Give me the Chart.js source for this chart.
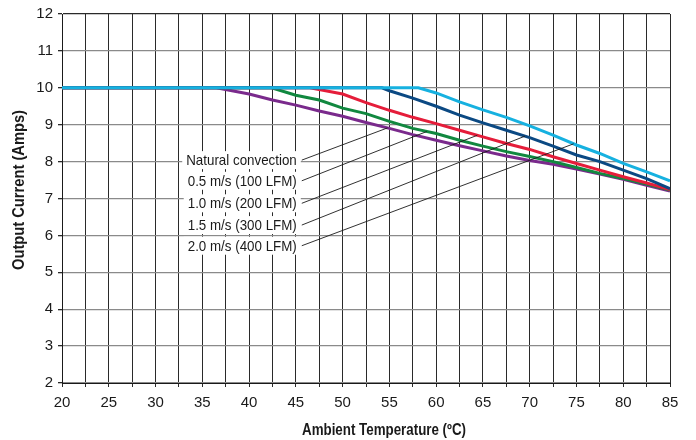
<!DOCTYPE html>
<html>
<head>
<meta charset="utf-8">
<script src="https://cdn.jsdelivr.net/npm/chart.js@4.4.0/dist/chart.umd.min.js"></script>
<style>
  html, body { margin: 0; padding: 0; background: #fff; }
  #wrap { width: 696px; height: 440px; }
</style>
</head>
<body>
<div id="wrap"><canvas id="deratingChart"></canvas></div>
<script>
// Derating curves: output current vs ambient temperature, per airflow
const natTemps  = [20, 36.5, 40, 42.5, 45, 47.5, 50, 52.5, 55, 57.5, 60, 62.5, 65, 67.5, 70, 72.5, 75, 77.5, 80, 82.5, 85];
const natAmps   = [10, 10, 9.83, 9.67, 9.53, 9.37, 9.23, 9.06, 8.9, 8.73, 8.58, 8.43, 8.29, 8.15, 8.03, 7.93, 7.8, 7.66, 7.52, 7.36, 7.2];
const ms05Temps = [20, 42.4, 45, 47.5, 50, 52.5, 55, 57.5, 60, 62.5, 65, 67.5, 70, 72.5, 75, 77.5, 80, 82.5, 85];
const ms05Amps  = [10, 10, 9.8, 9.67, 9.45, 9.3, 9.09, 8.9, 8.76, 8.58, 8.42, 8.27, 8.14, 8.0, 7.84, 7.68, 7.54, 7.39, 7.23];
const ms10Temps = [20, 46.5, 50, 52.5, 55, 57.5, 60, 62.5, 65, 67.5, 70, 72.5, 75, 77.5, 80, 82.5, 85];
const ms10Amps  = [10, 10, 9.83, 9.6, 9.39, 9.2, 9.03, 8.85, 8.67, 8.49, 8.33, 8.13, 7.95, 7.77, 7.59, 7.42, 7.24];
const ms15Temps = [20, 54.2, 55, 57.5, 60, 62.5, 65, 67.5, 70, 72.5, 75, 77.5, 80, 82.5, 85];
const ms15Amps  = [10, 10, 9.92, 9.72, 9.5, 9.26, 9.05, 8.85, 8.65, 8.42, 8.18, 8.0, 7.77, 7.54, 7.27];
const ms20Temps = [20, 58.1, 60, 62.5, 65, 67.5, 70, 72.5, 75, 77.5, 80, 82.5, 85];
const ms20Amps  = [10, 10, 9.86, 9.62, 9.4, 9.2, 8.97, 8.72, 8.45, 8.22, 7.95, 7.72, 7.48];

const seriesNames = ['Natural convection', '0.5 m/s (100 LFM)', '1.0 m/s (200 LFM)', '1.5 m/s (300 LFM)', '2.0 m/s (400 LFM)'];
const seriesColors = ['#7a2a8c', '#11883f', '#e51d3a', '#0b4983', '#16b1e0'];

// callout labels (data units) and where each leader line meets its curve
const calloutTemp = 45.1;
const calloutAmps = [8.04, 7.48, 6.87, 6.28, 5.72];
const leaderTemps = [54.8, 59.0, 64.4, 69.5, 74.7];

const xTicks = { min: 20, max: 85, step: 2.5 };
const yTicks = { min: 2, max: 12, step: 1 };
const xTitle = 'Ambient Temperature (ºC)';
const yTitle = 'Output Current (Amps)';

const FONT = "'Liberation Sans', Arial, sans-serif";

function toPoints(temps, amps) {
    return temps.map((t, i) => ({ x: t, y: amps[i] }));
}

const allTemps = [natTemps, ms05Temps, ms10Temps, ms15Temps, ms20Temps];
const allAmps = [natAmps, ms05Amps, ms10Amps, ms15Amps, ms20Amps];

const datasets = seriesNames.map((name, i) => ({
    label: name,
    data: toPoints(allTemps[i], allAmps[i]),
    borderColor: seriesColors[i],
    borderWidth: 3,
    pointRadius: 0,
    tension: 0,
    fill: false,
    order: 5 - i // 2.0 m/s drawn on top
}));

// linear lookup of a curve's value at temperature t
function valueAt(temps, amps, t) {
    for (let i = 1; i < temps.length; i++) {
        if (t <= temps[i]) {
            const f = (t - temps[i - 1]) / (temps[i] - temps[i - 1]);
            return amps[i - 1] + f * (amps[i] - amps[i - 1]);
        }
    }
    return amps[amps.length - 1];
}

// condensed text: draw with a horizontal squeeze
function squeezedText(ctx, text, x, y, sx, align) {
    ctx.save();
    ctx.translate(x, y);
    ctx.scale(sx, 1);
    ctx.textAlign = align;
    ctx.fillText(text, 0, 0);
    ctx.restore();
}

const calloutPlugin = {
    id: 'callouts',
    afterDatasetsDraw(chart) {
        const ctx = chart.ctx;
        const xs = chart.scales.x, ys = chart.scales.y;
        const squeeze = 0.89;
        ctx.save();
        ctx.font = '15px ' + FONT;
        ctx.textBaseline = 'middle';
        seriesNames.forEach((name, i) => {
            const tx = xs.getPixelForValue(calloutTemp);
            const ty = ys.getPixelForValue(calloutAmps[i]);
            const w = ctx.measureText(name).width * squeeze;
            ctx.fillStyle = '#fff';
            ctx.fillRect(tx - w - 4, ty - 9, w + 8, 18);
            ctx.fillStyle = '#1a1a1a';
            squeezedText(ctx, name, tx, ty + 1, squeeze, 'right');

            // leader line to the matching curve
            const ex = xs.getPixelForValue(leaderTemps[i]);
            const ey = ys.getPixelForValue(valueAt(allTemps[i], allAmps[i], leaderTemps[i]));
            ctx.strokeStyle = '#1a1a1a';
            ctx.lineWidth = 0.9;
            ctx.beginPath();
            ctx.moveTo(tx + 5, ty);
            ctx.lineTo(ex, ey);
            ctx.stroke();
        });
        ctx.restore();
    }
};

// bold condensed axis titles
const titlePlugin = {
    id: 'axisTitles',
    afterDraw(chart) {
        const ctx = chart.ctx;
        ctx.save();
        ctx.font = 'bold 16px ' + FONT;
        ctx.fillStyle = '#1a1a1a';
        ctx.textBaseline = 'alphabetic';
        let sx = 164 / ctx.measureText(xTitle).width;
        squeezedText(ctx, xTitle, 384, 435, sx, 'center');

        sx = 160 / ctx.measureText(yTitle).width;
        ctx.translate(24, 190);
        ctx.rotate(-Math.PI / 2);
        squeezedText(ctx, yTitle, 0, 0, sx, 'center');
        ctx.restore();
    }
};

var deratingCtx = document.getElementById('deratingChart').getContext('2d');
var deratingChart = new Chart(deratingCtx, {
    type: 'line',
    data: { datasets: datasets },
    plugins: [calloutPlugin, titlePlugin],
    options: {
        responsive: true,
        maintainAspectRatio: false,
        animation: false,
        layout: { padding: { top: 14, right: 26, left: 0, bottom: 0 } },
        plugins: {
            legend: { display: false },
            tooltip: { enabled: false }
        },
        scales: {
            x: {
                type: 'linear',
                min: xTicks.min,
                max: xTicks.max,
                afterFit(scale) { scale.height = 57; },
                ticks: {
                    stepSize: xTicks.step,
                    autoSkip: false,
                    maxRotation: 0,
                    padding: 7,
                    color: '#1a1a1a',
                    font: { family: FONT, size: 15 },
                    callback: (v) => (v % 5 === 0 ? v : '')
                },
                grid: {
                    color: '#2a2a2a',
                    lineWidth: 1,
                    tickLength: 4,
                    tickColor: '#2a2a2a'
                },
                border: { color: '#1a1a1a', width: 1 }
            },
            y: {
                min: yTicks.min,
                max: yTicks.max,
                afterFit(scale) { scale.width = 62; },
                ticks: {
                    stepSize: yTicks.step,
                    padding: 5,
                    color: '#1a1a1a',
                    font: { family: FONT, size: 15 }
                },
                grid: {
                    color: (c) => (c.tick && c.tick.value === 12 ? '#2a2a2a' : '#8a8a8a'),
                    lineWidth: 1.3,
                    tickLength: 4,
                    tickColor: '#2a2a2a'
                },
                border: { color: '#1a1a1a', width: 1 }
            }
        }
    }
});
</script>
</body>
</html>
